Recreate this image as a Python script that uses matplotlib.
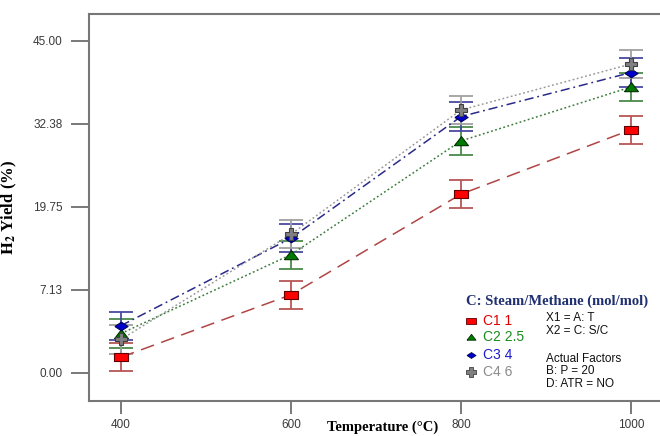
import numpy as np
import matplotlib
matplotlib.use('Agg')
import matplotlib.pyplot as plt

plt.rcParams['mathtext.fontset'] = 'stix'

# data (linear axis units; bottom tick "0.00" sits at -5.5)
temps = [400, 600, 800, 1000]
c1 = [-3.1, 6.4, 21.7, 31.5]
c2 = [0.5, 12.5, 29.8, 38.0]
c3 = [1.7, 15.0, 33.5, 40.2]
c4 = [-0.4, 15.6, 34.5, 41.5]
err = [2.15, 2.15, 2.15, 2.15]

ytick_pos = [-5.5, 7.125, 19.75, 32.375, 45.0]
ytick_lab = ['0.00', '7.13', '19.75', '32.38', '45.00']
xticks = [400, 600, 800, 1000]

legend_names = ['C1 1', 'C2 2.5', 'C3 4', 'C4 6']
factor_text = ['X1 = A: T', 'X2 = C: S/C', '', 'Actual Factors', 'B: P = 20', 'D: ATR = NO']

# slightly wide markers, like the stretched original
rect = [(-1, -0.6), (1, -0.6), (1, 0.6), (-1, 0.6), (-1, -0.6)]
tri = [(-1, -0.6), (1, -0.6), (0, 0.7), (-1, -0.6)]
diam = [(-1, 0), (0, 0.65), (1, 0), (0, -0.65), (-1, 0)]

# style per series: line colour, error colour, marker, face, edge, linestyle, text colour
styles = [
    ('#b04545', '#b85555', rect, '#ff0000', '#600000', (0, (9, 5)), '#e00000'),
    ('#3c7c3c', '#4a8a4a', tri, '#007a00', '#003000', (0, (1.2, 1.6)), '#1a8a1a'),
    ('#2a2a8a', '#4a4aa0', diam, '#0000cc', '#000060', (0, (6, 2.5, 1.2, 2.5)), '#1a1acc'),
    ('#9a9a9a', '#a0a0a0', 'P', '#808080', '#404040', (0, (1.2, 1.6)), '#8a8a8a'),
]
series = [c1, c2, c3, c4]
msizes = [9.5, 10, 9.5, 8.5]

W, H = 660, 436
fig = plt.figure(figsize=(W / 100, H / 100), dpi=100)
ax = fig.add_axes([89 / W, 35 / H, 574 / W, 387 / H])

for ys, st, ms in zip(series, styles, msizes):
    lc, ec, mk, fc, edc, ls, tc = st
    ax.errorbar(temps, ys, yerr=err, fmt='none', ecolor=ec, elinewidth=1.3,
                capsize=8.3, capthick=1.3, zorder=2)
    ax.plot(temps, ys, color=lc, lw=1.1, linestyle=ls, zorder=3)
    ax.plot(temps, ys, linestyle='none', marker=mk, ms=ms, mfc=fc, mec=edc,
            mew=0.8, zorder=4)

ax.set_xlim(362.4, 1037.6)
ax.set_ylim(-9.76, 49.1)
ax.set_xticks(xticks)
ax.set_xticklabels([str(t) for t in xticks])
ax.set_yticks(ytick_pos)
ax.set_yticklabels(ytick_lab)
ax.tick_params(axis='y', length=13, width=1.1, color='#555555', labelsize=8.5,
               labelcolor='#3a3a3a', pad=6)
ax.tick_params(axis='x', length=9, width=1.1, color='#555555', labelsize=8.5,
               labelcolor='#3a3a3a', pad=4)
for lab in ax.get_xticklabels() + ax.get_yticklabels():
    lab.set_fontfamily('Liberation Sans')
for sp in ax.spines.values():
    sp.set_color('#777777')
    sp.set_linewidth(1.5)

ax.set_ylabel(r'$\mathbf{H_2}$ Yield (%)', fontfamily='Liberation Serif',
              fontweight='bold', fontsize=12, labelpad=10)
fig.text(383 / W, 1 - 427 / H, 'Temperature (°C)', fontfamily='Liberation Serif',
         fontweight='bold', fontsize=10.5, ha='center', va='center')

# legend block
fig.text(466 / W, 1 - 301 / H, 'C: Steam/Methane (mol/mol)', fontfamily='Liberation Serif',
         fontweight='bold', fontsize=10.5, color='#1f2f6f', va='center')
row_y = [321, 337, 355, 372]
for name, st, yy in zip(legend_names, styles, row_y):
    lc, ec, mk, fc, edc, ls, tc = st
    ax.plot([471 / W], [1 - yy / H], marker=mk, ms=6.5, mfc=fc, mec=edc, mew=0.6,
            transform=fig.transFigure, clip_on=False, linestyle='none')
    fig.text(483 / W, 1 - yy / H, name, fontfamily='Liberation Sans', fontsize=10,
             color=tc, va='center')

fy = 318
for line in factor_text:
    if line:
        fig.text(546 / W, 1 - fy / H, line, fontfamily='Liberation Sans', fontsize=8.5,
                 color='#111111', va='center')
    fy += 12.5 if line else 15.5

fig.savefig('out.png', dpi=100)
